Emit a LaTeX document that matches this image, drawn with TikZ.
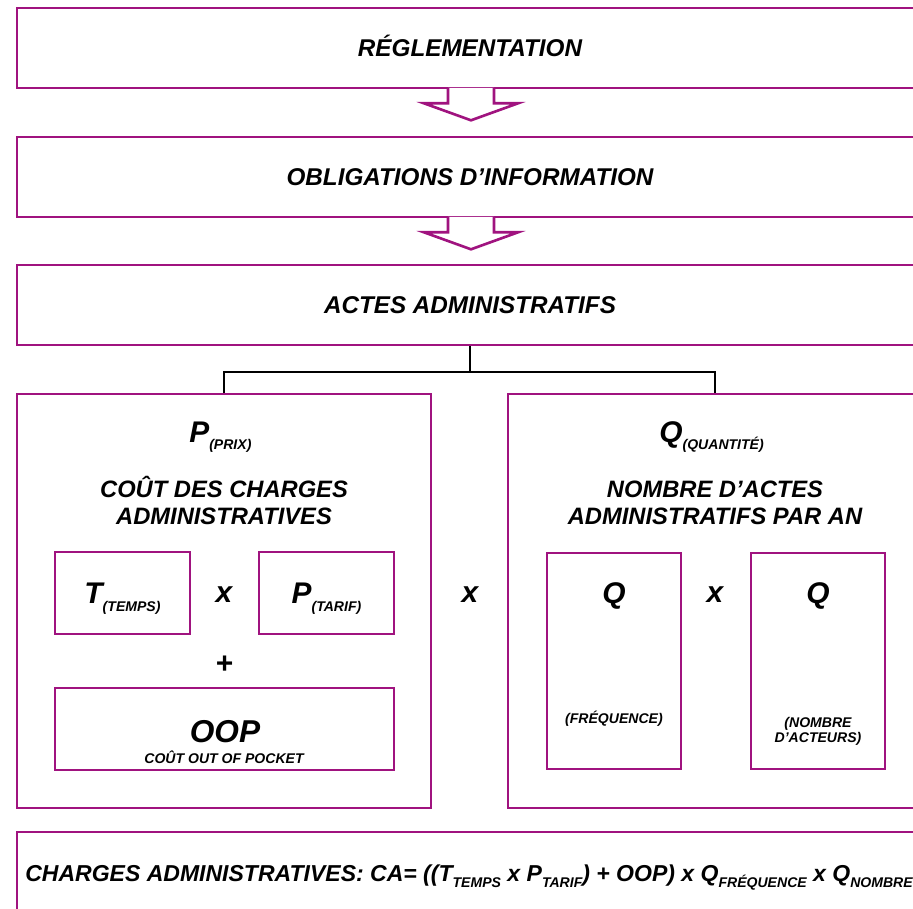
\documentclass[tikz,border=0pt]{standalone}
\usepackage{fontspec}
\setmainfont{Liberation Sans}
\definecolor{mauve}{HTML}{A0137F}
\newcommand{\fs}[1]{\fontsize{#1}{#1}\selectfont\bfseries\itshape}
\newcommand{\lowsub}[2][4.5pt]{\raisebox{-#1}{\fontsize{8}{8}\selectfont #2}}
\begin{document}
\begin{tikzpicture}[x=0.02cm, y=-0.02cm,
  box/.style={draw=mauve, line width=1.5pt, inner sep=0pt},
  wide/.style={box, minimum width=18.12cm, minimum height=1.6cm, font=\fs{13.8}, text height=9.9pt, text depth=0pt},
  letter/.style={font=\fs{17}, inner sep=0pt},
  head/.style={font=\fs{13.5}, inner sep=0pt},
  small/.style={font=\fs{8}, inner sep=0pt},
  blockarr/.style={draw=mauve, line width=1.5pt, fill=white, line join=miter},
  conn/.style={line width=1pt}]
  \useasboundingbox (0,0) rectangle (913,909);
  \clip (0,0) rectangle (913,909);

  \node[wide] (regl) at (470,48) {RÉGLEMENTATION};
  \node[wide] (oblig) at (470,177) {OBLIGATIONS D’INFORMATION};
  \node[wide] (actes) at (470,305) {ACTES ADMINISTRATIFS};
  \foreach \n in {regl,oblig}
    \draw[blockarr] ([xshift=-0.44cm,yshift=0.03cm]\n.south) -- ++(0,15.5) -- ++(-24,0) -- ++(47,17) -- ++(47,-17) -- ++(-24,0) -- ++(0,-15.5);

  \node[box, minimum size=8.28cm] (prix) at (224,601) {};
  \node[box, minimum size=8.28cm] (quant) at (715,601) {};
  \coordinate (fork) at ([yshift=-0.52cm]actes.south);
  \draw[conn] (actes.south) -- (fork);
  \draw[conn] (prix.north) |- (fork) -| (quant.north);

  % prix
  \node[letter, anchor=base west] (ptitle) at (189,442) {P\lowsub{(PRIX)}};
  \node[head, anchor=base] (cout1) at (224,497) {COÛT DES CHARGES};
  \node[head, anchor=base] (cout2) at (224,524) {ADMINISTRATIVES};
  \node[box, letter, minimum width=2.7cm, minimum height=1.64cm, text height=12.2pt, text depth=0pt] (temps) at (122.5,593) {T\lowsub{(TEMPS)}};
  \node[box, letter, minimum width=2.7cm, minimum height=1.64cm, text height=12.2pt, text depth=0pt] (tarif) at (326.5,593) {P\lowsub{(TARIF)}};
  \node[letter, anchor=base] (fois1) at (224,602) {x};
  \node[letter] (plus) at (224,665) {+};
  \node[box, minimum width=6.78cm, minimum height=1.64cm] (oop) at (224.5,729) {};
  \node[font=\fs{18}, inner sep=0pt, anchor=base] (ooptxt) at (225,742) {OOP};
  \node[small, anchor=base] (oopsub) at (224,763) {COÛT OUT OF POCKET};

  \node[letter, anchor=base] (fois2) at (470,602) {x};

  % quantite
  \node[letter, anchor=base west] (qtitle) at (659,442) {Q\lowsub{(QUANTITÉ)}};
  \node[head, anchor=base] (nombre1) at (715,497) {NOMBRE D’ACTES};
  \node[head, anchor=base] (nombre2) at (715,524) {ADMINISTRATIFS PAR AN};
  \node[box, minimum width=2.68cm, minimum height=4.32cm] (freq) at (614,661) {};
  \node[box, minimum width=2.68cm, minimum height=4.32cm] (acteurs) at (818,661) {};
  \node[letter, anchor=base] (qfreq) at (614,603) {Q};
  \node[letter, anchor=base] (qact) at (818,603) {Q};
  \node[letter, anchor=base] (fois3) at (715,602) {x};
  \node[small, anchor=base] (freqtxt) at (614,723) {(FRÉQUENCE)};
  \node[small, anchor=base] (act1) at (818,727) {(NOMBRE};
  \node[small, anchor=base] (act2) at (818,742) {D’ACTEURS)};

  \node[box, minimum width=18.12cm, minimum height=1.6cm] (cabox) at (470,872) {};
  \node[font=\fs{13.1}, inner sep=0pt, anchor=base west] (formula) at (25,881)
    {CHARGES ADMINISTRATIVES: CA= ((T\lowsub[3.5pt]{TEMPS} x P\lowsub[3.5pt]{TARIF}) + OOP) x Q\lowsub[3.5pt]{FRÉQUENCE} x Q\lowsub[3.5pt]{NOMBRE}};
\end{tikzpicture}
\end{document}
